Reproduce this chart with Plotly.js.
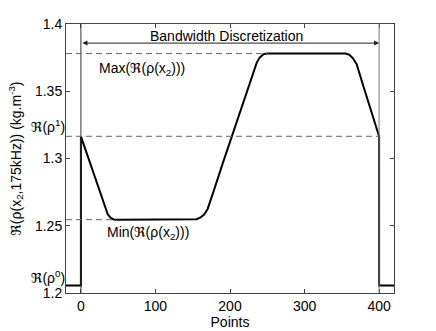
<!DOCTYPE html>
<html>
<head>
<meta charset="utf-8">
<script src="https://cdn.plot.ly/plotly-3.0.1.min.js"></script>
<style>
  body { margin: 0; background: #fff; }
  #chart { width: 436px; height: 331px; }
</style>
</head>
<body>
<div id="chart"></div>
<script>
// density profile
var pts = [-20, 0, 0, 10, 20, 30, 36, 40, 44, 50, 100, 150, 155, 160, 165, 170, 175, 180, 190, 200, 210, 220, 230, 236, 240, 245, 250, 300, 355, 360, 365, 370, 375, 380, 390, 400, 400, 420];
var rho = [1.2055, 1.2055, 1.3165, 1.300, 1.2835, 1.267, 1.2585, 1.2558, 1.2547, 1.2545, 1.2545, 1.2545, 1.2549, 1.2560, 1.2582, 1.2625, 1.2700, 1.2790, 1.2960, 1.3127, 1.3292, 1.3457, 1.3622, 1.3715, 1.3752, 1.3775, 1.378, 1.378, 1.378, 1.3772, 1.3745, 1.3700, 1.3605, 1.3518, 1.3342, 1.3165, 1.2055, 1.2055];

var rho0 = 1.2055;
var rho1 = 1.3165;
var rhoMax = 1.378;
var rhoMin = 1.2545;
var bandStart = 0;
var bandEnd = 400;
var xTicks = [0, 100, 200, 300, 400];
var yTicks = [1.2, 1.25, 1.3, 1.35, 1.4];

var font = { family: 'Liberation Sans, Arial, DejaVu Sans, sans-serif', size: 14, color: '#000' };

var data = [{
  type: 'scatter',
  mode: 'lines',
  x: pts,
  y: rho,
  line: { color: '#000', width: 2 },
  hoverinfo: 'skip'
}];

var dash = { color: '#666', width: 1, dash: '6px,4px' };
var shapes = [
  { type: 'line', xref: 'x', yref: 'paper', x0: bandStart, x1: bandStart, y0: 0, y1: 1, line: { color: '#333', width: 1 } },
  { type: 'line', xref: 'x', yref: 'paper', x0: bandEnd, x1: bandEnd, y0: 0, y1: 1, line: { color: '#777', width: 1 } },
  { type: 'line', xref: 'x', yref: 'y', x0: -20, x1: 250, y0: rhoMax, y1: rhoMax, line: dash },
  { type: 'line', xref: 'x', yref: 'y', x0: -20, x1: bandEnd, y0: rho1, y1: rho1, line: dash },
  { type: 'line', xref: 'x', yref: 'y', x0: -20, x1: 44, y0: rhoMin, y1: rhoMin, line: dash }
];

var annotations = [
  { x: bandEnd, y: 1.3858, ax: bandStart, ay: 1.3858, xref: 'x', yref: 'y', axref: 'x', ayref: 'y',
    text: '', showarrow: true, arrowside: 'end+start', arrowhead: 2, arrowsize: 1, arrowwidth: 1, arrowcolor: '#222' },
  { x: 195, y: 1.3858, xref: 'x', yref: 'y', yanchor: 'bottom', yshift: -3, text: 'Bandwidth Discretization',
    showarrow: false, font: font },
  { x: 22, y: 1.3664, xref: 'x', yref: 'y', xanchor: 'left', text: 'Max(ℜ(ρ(x<sub>2</sub>)))', showarrow: false, font: font },
  { x: 32, y: 1.2445, xref: 'x', yref: 'y', xanchor: 'left', text: 'Min(ℜ(ρ(x<sub>2</sub>)))', showarrow: false, font: font },
  { x: 0, y: rho1, xref: 'paper', yref: 'y', xanchor: 'right', xshift: 0, yshift: 10, borderpad: 0, text: 'ℜ(ρ<sup>1</sup>)', showarrow: false, font: font },
  { x: 0, y: rho0, xref: 'paper', yref: 'y', xanchor: 'right', xshift: 0, yshift: 9, borderpad: 0, text: 'ℜ(ρ<sup>0</sup>)', showarrow: false, font: font }
];

var layout = {
  width: 436,
  height: 331,
  margin: { l: 66, r: 42, t: 24, b: 38 },
  paper_bgcolor: '#fff',
  plot_bgcolor: '#fff',
  showlegend: false,
  font: font,
  xaxis: {
    range: [-20, 420],
    tickvals: xTicks,
    ticks: 'inside', ticklen: 4, tickcolor: '#444',
    showline: true, linecolor: '#444', linewidth: 1, mirror: 'ticks',
    showgrid: false, zeroline: false,
    title: { text: 'Points', font: font, standoff: 0 }
  },
  yaxis: {
    range: [1.2, 1.4],
    tickvals: yTicks,
    ticktext: ['1.2', '1.25', '1.3', '1.35', '1.4'],
    ticks: 'inside', ticklen: 4, tickcolor: '#444',
    showline: true, linecolor: '#444', linewidth: 1, mirror: 'ticks',
    showgrid: false, zeroline: false,
    title: { text: 'ℜ(ρ(x<sub>2</sub>,175kHz)) (kg.m<sup>-3</sup>)', font: font, standoff: 10 }
  },
  shapes: shapes,
  annotations: annotations
};

Plotly.newPlot('chart', data, layout, { displayModeBar: false, staticPlot: true });
</script>
</body>
</html>
